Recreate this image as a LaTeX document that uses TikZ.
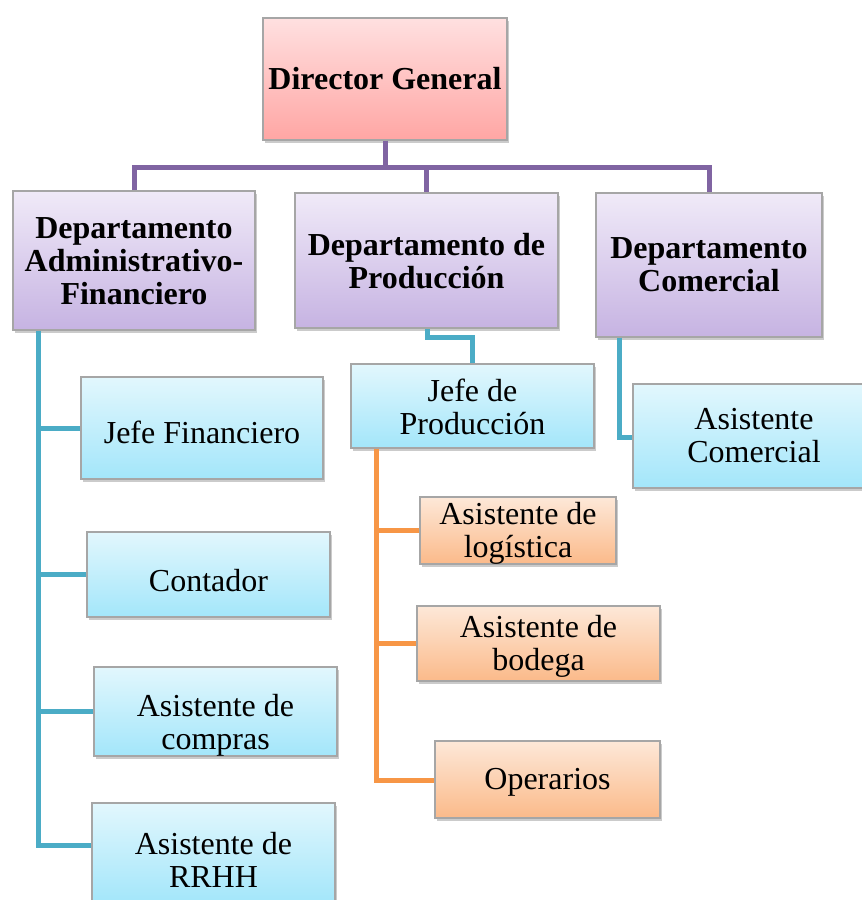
\documentclass[tikz,border=0pt]{standalone}
\usepackage{fontspec}
\setmainfont{Liberation Serif}
\usetikzlibrary{shadows}
\begin{document}
\begin{tikzpicture}[x=1pt,y=-1pt,
  base/.style={rectangle, draw=black!35, line width=1.2pt, inner sep=0pt,
    drop shadow={shadow xshift=1.5pt, shadow yshift=-2.5pt, fill=black!45, opacity=0.45}},
  txt/.style={align=center, inner sep=0pt, font=\fontsize{32}{33}\selectfont},
  btxt/.style={txt, font=\bfseries\fontsize{32}{33}\selectfont},
  pinkbox/.style={base, top color=pinkT, bottom color=pinkB},
  purbox/.style={base, top color=purT, bottom color=purB},
  bluebox/.style={base, top color=bluT, bottom color=bluB},
  orabox/.style={base, top color=oraT, bottom color=oraB},
  purline/.style={draw=purL, line width=5pt},
  blueline/.style={draw=bluL, line width=5pt},
  oraline/.style={draw=oraL, line width=5pt}
]
\definecolor{pinkT}{HTML}{FFE0E0}
\definecolor{pinkB}{HTML}{FFA6A4}
\definecolor{purT}{HTML}{F0EAF8}
\definecolor{purB}{HTML}{C6B3E2}
\definecolor{bluT}{HTML}{E2F7FD}
\definecolor{bluB}{HTML}{A3E6FA}
\definecolor{oraT}{HTML}{FDE8D8}
\definecolor{oraB}{HTML}{FBBA8A}
\definecolor{purL}{HTML}{8064A2}
\definecolor{bluL}{HTML}{4BACC6}
\definecolor{oraL}{HTML}{F79646}

\useasboundingbox (0,0) rectangle (862,900);

\coordinate (bus) at (385,167);
\coordinate (jpk) at (427,337);
\coordinate (ack) at (619,437);
\coordinate (lv) at (38,845);
\coordinate (ov) at (376,780);

% boxes (centre, width, height in px); text as centre label, shifted where the reference sets it lower
\node[pinkbox, minimum width=244, minimum height=122, label={[btxt]center:Director General}] (dg) at (385,79) {};
\node[purbox, minimum width=242, minimum height=139, label={[btxt, yshift=-1]center:{Departamento\\Administrativo-\\Financiero}}] (d1) at (134,260.5) {};
\node[purbox, minimum width=263, minimum height=135, label={[btxt, yshift=-1]center:{Departamento de\\Producción}}] (d2) at (426.5,260.5) {};
\node[purbox, minimum width=226, minimum height=144, label={[btxt]center:{Departamento\\Comercial}}] (d3) at (709,265) {};

\node[bluebox, minimum width=243, minimum height=84, label={[txt, yshift=-1]center:{Jefe de\\Producción}}] (jp) at (472.5,406) {};
\node[bluebox, minimum width=242, minimum height=104, label={[txt]center:{Asistente\\Comercial}}] (ac) at (754,436) {};

\node[bluebox, minimum width=242, minimum height=102, label={[txt, yshift=-4]center:Jefe Financiero}] (jf) at (202,428) {};
\node[bluebox, minimum width=243, minimum height=85, label={[txt, yshift=-6]center:Contador}] (co) at (208.5,574.5) {};
\node[bluebox, minimum width=243, minimum height=89, label={[txt, yshift=-14]center:{Asistente de\\compras}}] (cp) at (215.5,711.5) {};
\node[bluebox, minimum width=243, minimum height=100, label={[txt, yshift=-7]center:{Asistente de\\RRHH}}] (rh) at (213.5,853) {};

\node[orabox, minimum width=196, minimum height=67, label={[txt, yshift=-3]center:{Asistente de\\logística}}] (lg) at (518,530.5) {};
\node[orabox, minimum width=243, minimum height=75, label={[txt, yshift=-3]center:{Asistente de\\bodega}}] (bd) at (538.5,643.5) {};
\node[orabox, minimum width=225, minimum height=77, label={[txt, yshift=-3]center:Operarios}] (op) at (547.5,779.5) {};

% connectors
\path[purline] (dg.south) -- (bus);
\path[purline] (d1.north) |- (bus) -| (d3.north);
\path[purline] (bus -| d2.north) -- (d2.north);

\path[blueline] (d2.south -| jpk) -- (jpk) -| (jp.north);
\path[blueline] (d3.south -| ack) -- (ack) -- (ac.west |- ack);

\path[blueline] (d1.south -| lv) -- (lv) -- (rh.west |- lv);
\path[blueline] (jf.west -| lv) -- (jf.west);
\path[blueline] (co.west -| lv) -- (co.west);
\path[blueline] (cp.west -| lv) -- (cp.west);

\path[oraline] (jp.south -| ov) -- (ov) -- (op.west |- ov);
\path[oraline] (lg.west -| ov) -- (lg.west);
\path[oraline] (bd.west -| ov) -- (bd.west);
\end{tikzpicture}
\end{document}
